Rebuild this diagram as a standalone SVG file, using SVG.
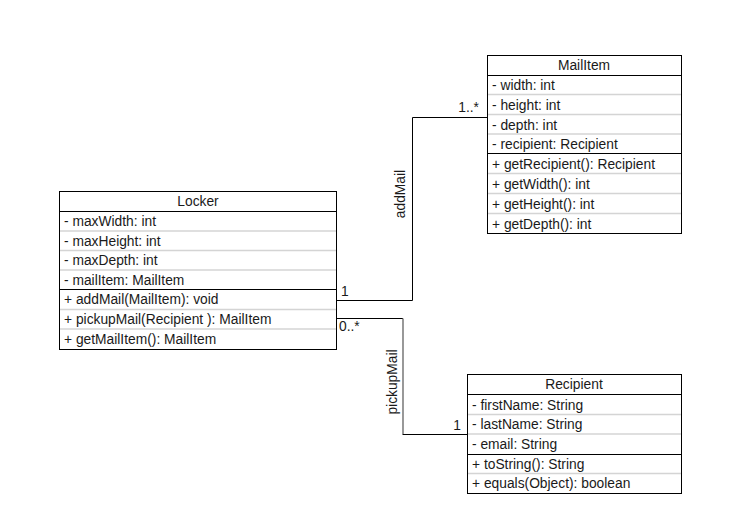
<svg xmlns="http://www.w3.org/2000/svg" width="747" height="527" viewBox="0 0 747 527">
<style>
.box{fill:#fff;stroke:#000;stroke-width:1}
.sep{stroke:#000;stroke-width:1}
.lsep{stroke:#d4d4d4;stroke-width:1.5}
text{font-family:"Liberation Sans",Arial,sans-serif;font-size:13.8px;fill:#1a1a1a}
.hd{text-anchor:middle}
.con{fill:none;stroke:#000;stroke-width:1}
</style>
<rect width="747" height="527" fill="#fff"/>
<g id="connectors">
<polyline class="con" points="336.5,300.5 412.5,300.5 412.5,117.5 487.5,117.5"/>
<polyline class="con" points="336.5,318.5 403,318.5"/>
<line x1="403" y1="318.5" x2="403" y2="434" stroke="#7f7f7f" stroke-width="1.6"/>
<line x1="402.5" y1="434.5" x2="467.5" y2="434.5" stroke="#000"/>
<text x="341" y="296">1</text>
<text x="479" y="112" text-anchor="end">1..*</text>
<text x="339" y="331">0..*</text>
<text x="461" y="430" text-anchor="end">1</text>
<text transform="translate(405,194) rotate(-90)" text-anchor="middle">addMail</text>
<text transform="translate(397,382) rotate(-90)" text-anchor="middle">pickupMail</text>
</g>
<g id="Locker">
<rect class="box" x="59.5" y="191.5" width="277" height="158"/>
<line class="sep" x1="59.5" y1="211.5" x2="336.5" y2="211.5"/>
<line class="lsep" x1="60" y1="231" x2="336" y2="231"/>
<line class="lsep" x1="60" y1="250.5" x2="336" y2="250.5"/>
<line class="lsep" x1="60" y1="270" x2="336" y2="270"/>
<line class="sep" x1="59.5" y1="289.5" x2="336.5" y2="289.5"/>
<line class="lsep" x1="60" y1="309.5" x2="336" y2="309.5"/>
<line class="lsep" x1="60" y1="329" x2="336" y2="329"/>
<text class="hd" x="198" y="206">Locker</text>
<text x="64" y="226">- maxWidth: int</text>
<text x="64" y="246">- maxHeight: int</text>
<text x="64" y="265">- maxDepth: int</text>
<text x="64" y="285">- mailItem: MailItem</text>
<text x="64" y="304">+ addMail(MailItem): void</text>
<text x="64" y="324">+ pickupMail(Recipient ): MailItem</text>
<text x="64" y="344">+ getMailItem(): MailItem</text>
</g>
<g id="MailItem">
<rect class="box" x="487.5" y="55.5" width="194" height="178"/>
<line class="sep" x1="487.5" y1="75.5" x2="681.5" y2="75.5"/>
<line class="lsep" x1="488" y1="94.5" x2="681" y2="94.5"/>
<line class="lsep" x1="488" y1="114.5" x2="681" y2="114.5"/>
<line class="lsep" x1="488" y1="134" x2="681" y2="134"/>
<line class="sep" x1="487.5" y1="153.5" x2="681.5" y2="153.5"/>
<line class="lsep" x1="488" y1="173.5" x2="681" y2="173.5"/>
<line class="lsep" x1="488" y1="193.5" x2="681" y2="193.5"/>
<line class="lsep" x1="488" y1="213.5" x2="681" y2="213.5"/>
<text class="hd" x="584" y="70">MailItem</text>
<text x="492" y="90">- width: int</text>
<text x="492" y="110">- height: int</text>
<text x="492" y="130">- depth: int</text>
<text x="492" y="149">- recipient: Recipient</text>
<text x="492" y="169">+ getRecipient(): Recipient</text>
<text x="492" y="189">+ getWidth(): int</text>
<text x="492" y="209">+ getHeight(): int</text>
<text x="492" y="229">+ getDepth(): int</text>
</g>
<g id="Recipient">
<rect class="box" x="467.5" y="374.5" width="214" height="119"/>
<line class="sep" x1="467.5" y1="394.5" x2="681.5" y2="394.5"/>
<line class="lsep" x1="468" y1="414.5" x2="681" y2="414.5"/>
<line class="lsep" x1="468" y1="434" x2="681" y2="434"/>
<line class="sep" x1="467.5" y1="454.5" x2="681.5" y2="454.5"/>
<line class="lsep" x1="468" y1="473.5" x2="681" y2="473.5"/>
<text class="hd" x="574" y="389">Recipient</text>
<text x="472" y="410">- firstName: String</text>
<text x="472" y="429">- lastName: String</text>
<text x="472" y="449">- email: String</text>
<text x="472" y="469">+ toString(): String</text>
<text x="472" y="488">+ equals(Object): boolean</text>
</g>
</svg>
